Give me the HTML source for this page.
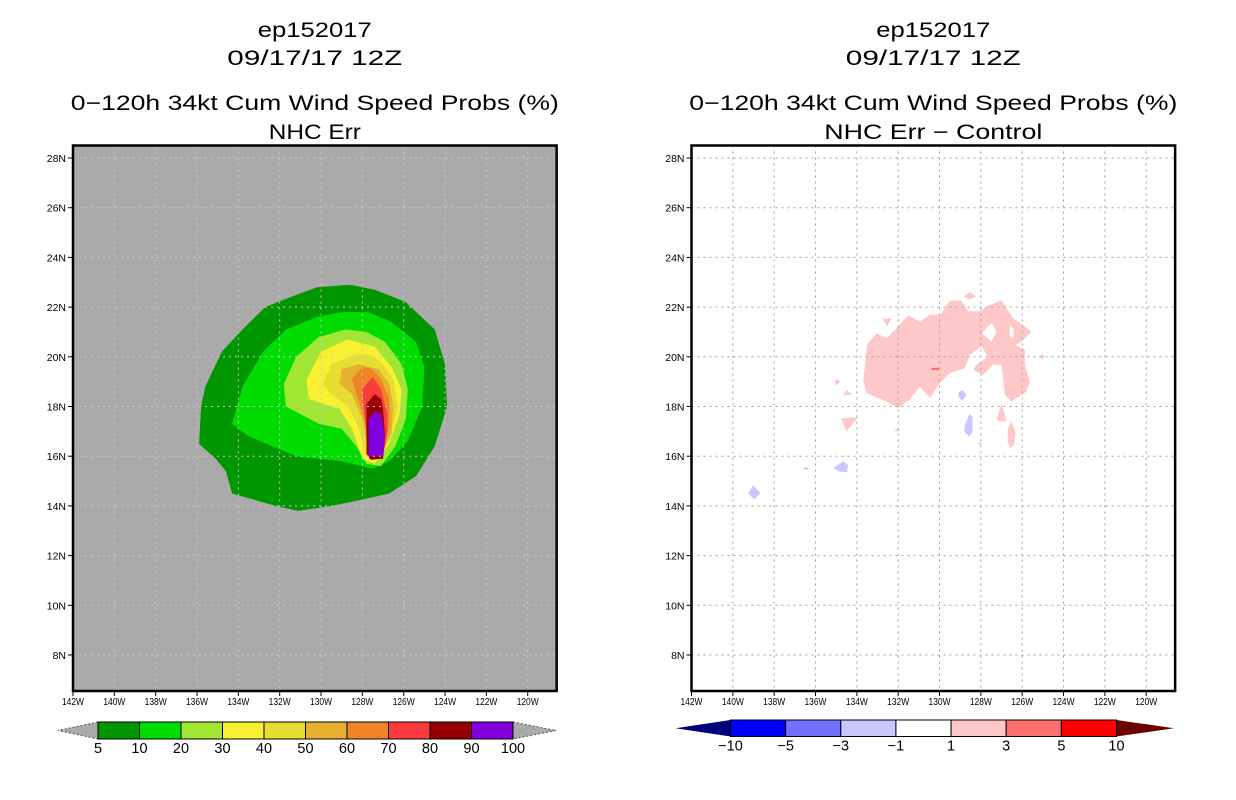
<!DOCTYPE html>
<html><head><meta charset="utf-8">
<style>
html,body{margin:0;padding:0;background:#fff;width:1236px;height:800px;overflow:hidden}
svg{display:block}
text{font-family:"Liberation Sans",sans-serif;fill:#000}
</style></head>
<body>
<svg id="root" width="1236" height="800" viewBox="0 0 1236 800"></svg>
<script>
// ---- axis data ----
const lonTicks = [142,140,138,136,134,132,130,128,126,124,122,120];
const latTicks = [28,26,24,22,20,18,16,14,12,10,8];
const lonMin = 142.0, lonMax = 118.6, latMin = 6.6, latMax = 28.5;

// ---- left panel: probability contour levels (filled polygons, [lonW, latN]) ----
const probLevels = [5,10,20,30,40,50,60,70,80,90,100];
const probColors = ["#009600","#00dc00","#a0e632","#faf032","#e6dc32","#e6af2d","#f08228","#fa3c3c","#960000","#8200dc"];
const c5  = [[128.6,22.9],[130.2,22.8],[131.5,22.4],[132.7,22.0],[133.8,21.1],[134.8,20.2],[135.6,18.8],[135.8,18.0],[135.9,16.5],[135.1,15.9],[134.6,15.4],[134.3,14.5],[132.2,14.0],[131.1,13.8],[129.5,14.0],[128.3,14.2],[126.7,14.5],[125.4,15.2],[124.5,16.4],[123.9,18.0],[124.0,19.7],[124.5,21.1],[125.9,22.2],[127.4,22.7]];
const c10 = [[129.0,21.8],[130.2,21.6],[131.7,21.1],[132.8,20.2],[133.8,18.8],[134.3,17.3],[133.5,16.8],[131.2,16.0],[129.0,15.8],[127.5,15.5],[126.7,15.8],[125.8,16.6],[125.1,18.0],[125.0,19.6],[125.4,20.6],[126.6,21.4],[127.7,21.8]];
const c20 = [[128.8,21.1],[130.1,20.8],[131.2,20.0],[131.8,18.9],[131.7,18.0],[130.1,17.3],[129.0,17.1],[128.3,16.4],[127.8,15.7],[127.1,15.6],[126.4,16.4],[125.9,17.5],[125.8,18.7],[126.1,19.7],[126.9,20.6],[127.8,21.0]];
const c30 = [[128.7,20.7],[130.0,20.2],[130.7,19.1],[130.6,18.3],[129.1,17.9],[128.5,17.1],[128.0,15.9],[127.4,15.7],[126.7,16.5],[126.2,17.7],[126.1,18.7],[126.6,19.6],[127.4,20.4]];
const c40 = [[128.3,20.1],[129.5,19.7],[129.9,18.9],[129.5,18.5],[128.7,18.0],[128.2,17.2],[127.8,16.0],[127.2,15.9],[126.6,16.8],[126.3,18.0],[126.5,19.1],[127.1,19.8],[127.7,20.1]];
const c50 = [[128.2,19.7],[129.0,19.5],[129.1,18.9],[128.5,18.5],[128.0,17.5],[127.7,16.0],[127.1,16.0],[126.6,16.9],[126.5,18.0],[126.7,18.9],[127.2,19.5]];
const c60 = [[128.0,19.6],[128.5,19.1],[128.2,18.3],[127.8,17.2],[127.6,16.0],[127.1,16.0],[126.7,17.2],[126.7,18.3],[127.1,19.1],[127.5,19.5]];
const c70 = [[127.5,19.2],[128.0,18.7],[127.9,17.7],[127.8,16.9],[127.6,16.0],[127.0,16.0],[126.8,16.9],[126.8,17.7],[127.1,18.7]];
const c80 = [[127.4,18.5],[127.8,18.1],[127.8,17.5],[127.8,16.1],[127.6,15.85],[127.0,15.9],[126.9,16.8],[127.0,17.9],[127.1,18.3]];
const c90 = [[127.4,17.8],[127.7,17.5],[127.7,16.0],[127.0,16.0],[126.9,16.8],[127.1,17.7]];
const probContours = [c5,c10,c20,c30,c40,c50,c60,c70,c80,c90];

// ---- right panel: difference contours ----
const diffLabels = ["-10","-5","-3","-1","1","3","5","10"];
const diffColors = ["#0000ff","#7070ff","#c8c8ff","#ffffff","#ffc8c8","#ff7070","#ff0000"];
const diffEndLow = "#000078", diffEndHigh = "#6e0000";
const pinkMain = [[133.5,20.5],[133.05,20.95],[132.56,20.75],[132.08,21.15],[131.52,21.66],[130.95,21.42],[130.47,21.69],[129.95,21.69],[129.5,22.26],[128.94,22.26],[128.61,21.83],[128.05,21.83],[127.56,22.09],[127.0,22.27],[126.44,21.56],[125.55,21.02],[126.11,20.55],[126.35,20.48],[125.87,20.28],[125.87,19.68],[125.63,19.01],[125.79,18.6],[126.52,18.2],[126.84,18.47],[127.0,19.68],[127.4,19.68],[127.89,19.28],[128.37,19.48],[128.21,19.68],[127.65,20.01],[127.97,20.42],[128.53,20.08],[128.77,19.54],[129.5,19.34],[129.98,18.94],[130.47,18.34],[130.95,18.81],[131.44,18.27],[132.0,17.93],[132.56,18.2],[133.53,18.54],[133.69,19.01]];
const pinkHoles = [
  [[127.97,20.95],[127.48,21.36],[127.24,21.02],[127.48,20.62]],
  [[126.6,21.22],[126.4,21.15],[126.44,20.75],[126.6,20.82]]
];
const pinkSmall = [
  [[128.85,22.43],[128.52,22.6],[128.23,22.43],[128.52,22.3]],
  [[132.76,21.53],[132.32,21.56],[132.53,21.22]],
  [[125.03,20.15],[124.94,20.01],[125.03,19.88],[125.13,20.01]],
  [[135.1,19.0],[134.95,19.11],[134.82,18.98],[134.98,18.85]],
  [[134.66,18.47],[134.47,18.67],[134.23,18.47]],
  [[134.77,17.53],[133.94,17.56],[134.5,17.0]],
  [[127.24,17.46],[127.0,18.13],[126.76,17.42],[127.0,17.39]],
  [[126.68,17.13],[126.52,17.42],[126.32,16.93],[126.39,16.46],[126.55,16.32],[126.71,16.59]]
];
const redSmall = [[[130.39,19.55],[130.05,19.57],[129.95,19.51],[130.05,19.46],[130.39,19.47]]];
const blueSmall = [
  [[129.1,18.54],[128.9,18.67],[128.69,18.47],[128.9,18.24],[129.05,18.34]],
  [[128.77,17.26],[128.56,17.69],[128.4,17.6],[128.4,16.99],[128.56,16.79],[128.81,16.99]],
  [[132.21,17.02],[132.03,17.1],[131.92,17.0]],
  [[128.13,16.52],[128.02,16.56],[127.97,16.48],[128.05,16.43]],
  [[135.15,15.52],[134.66,15.79],[134.42,15.65],[134.47,15.36],[134.82,15.38]],
  [[136.6,15.52],[136.44,15.57],[136.31,15.49],[136.47,15.44]],
  [[139.26,14.51],[139.02,14.82],[138.66,14.51],[138.98,14.27]]
];

const NS = "http://www.w3.org/2000/svg";
const root = document.getElementById('root');
function mk(tag, attrs, parent){
  const e = document.createElementNS(NS, tag);
  for (const k in attrs) e.setAttribute(k, attrs[k]);
  (parent||root).appendChild(e);
  return e;
}
const PY0 = 145.5, PY1 = 691;
function xScale(x0){ return lon => x0 + (lonMin - lon) * ((527.7-73)/22); }
function yScale(lat){ return 158 + (28 - lat) * 24.85; }
function polyPts(poly, xs){ return poly.map(p => xs(p[0]).toFixed(1)+","+yScale(p[1]).toFixed(1)).join(" "); }
function pathD(poly, xs){ return "M"+poly.map(p => xs(p[0]).toFixed(1)+" "+yScale(p[1]).toFixed(1)).join("L")+"Z"; }

function titles(cx, lines, g){
  const ys=[37,65,110,139], ws=[114,175,488,null];
  lines.forEach((t,i)=>{
    const el = mk('text',{x:cx,y:ys[i],'text-anchor':'middle','font-size':21,textLength:(ws[i]||t.w),lengthAdjust:'spacingAndGlyphs'},g);
    el.textContent = t.s||t;
    
    
  });
}

function panel(x0, bg, name, titleLines){
  const g = mk('g',{});
  
  
  const xs = xScale(x0);
  const xR = xs(lonMax);
  titles((x0+xR)/2, titleLines, g);
  const bgR = mk('rect',{x:x0,y:PY0,width:xR-x0,height:PY1-PY0,fill:bg},g);
  
  
  const data = mk('g',{},g);
  
  
  const grid = mk('g',{stroke:bg==="#ffffff"?"#a0a0a0":"#c8c8c8",'stroke-width':1,'stroke-dasharray':'2,4'},g);
  
  
  // ticks & labels
  const ax = mk('g',{},g);
  
  
  lonTicks.forEach(l=>{
    const x = xs(l);
    if (l<142 && l>118.6) mk('line',{x1:x,y1:PY0,x2:x,y2:PY1},grid);
    mk('line',{x1:x,y1:PY1,x2:x,y2:PY1+5,stroke:'#000','stroke-width':1},ax);
    const t = mk('text',{x:x,y:PY1+14,'text-anchor':'middle','font-size':10.5,textLength:22,lengthAdjust:'spacingAndGlyphs'},ax);
    t.textContent = l+"W";
    
    
  });
  latTicks.forEach(l=>{
    const y = yScale(l);
    mk('line',{x1:x0,y1:y,x2:xR,y2:y},grid);
    mk('line',{x1:x0-5,y1:y,x2:x0,y2:y,stroke:'#000','stroke-width':1},ax);
    const t = mk('text',{x:x0-7,y:y+4,'text-anchor':'end','font-size':10.5},ax);
    t.textContent = l+"N";
    
    
  });
  const fr = mk('rect',{x:x0,y:PY0,width:xR-x0,height:PY1-PY0,fill:'none',stroke:'#000','stroke-width':2.5},g);
  
  
  return {data, xs};
}

// Left panel
const L = panel(73, "#aaaaaa", "prob-panel", ["ep152017","09/17/17 12Z","0\u2212120h 34kt Cum Wind Speed Probs (%)",{s:"NHC Err",w:92}]);
probContours.forEach((poly,i)=>{
  const p = mk('polygon',{points:polyPts(poly,L.xs),fill:probColors[i]},L.data);
  
  
});

// Right panel
const R = panel(691.5, "#ffffff", "diff-panel", ["ep152017","09/17/17 12Z","0\u2212120h 34kt Cum Wind Speed Probs (%)",{s:"NHC Err \u2212 Control",w:218}]);
const main = mk('path',{d:pathD(pinkMain,R.xs)+pinkHoles.map(h=>pathD(h,R.xs)).join(""),fill:diffColors[4],'fill-rule':'evenodd'},R.data);


pinkSmall.forEach(poly=>{
  const p = mk('polygon',{points:polyPts(poly,R.xs),fill:diffColors[4]},R.data);
  
  
});
redSmall.forEach(poly=>{
  const p = mk('polygon',{points:polyPts(poly,R.xs),fill:diffColors[5]},R.data);
  
  
});
blueSmall.forEach(poly=>{
  const p = mk('polygon',{points:polyPts(poly,R.xs),fill:diffColors[2]},R.data);
  
  
});

// Colorbars
function colorbar(name, tipL, x0, x1, tipR, y0, y1, colors, endL, endR, labels, dashedEnds){
  const g = mk('g',{});
  
  
  const ym = (y0+y1)/2, w = (x1-x0)/colors.length;
  const tl = mk('polygon',{points:`${tipL},${ym} ${x0},${y0} ${x0},${y1}`,fill:endL},g);
  
  
  const tr = mk('polygon',{points:`${tipR},${ym} ${x1},${y0} ${x1},${y1}`,fill:endR},g);
  
  
  if (dashedEnds){
    mk('polyline',{points:`${x0},${y0} ${tipL},${ym} ${x0},${y1}`,fill:'none',stroke:'#555','stroke-dasharray':'2,2'},g);
    mk('polyline',{points:`${x1},${y0} ${tipR},${ym} ${x1},${y1}`,fill:'none',stroke:'#555','stroke-dasharray':'2,2'},g);
  }
  colors.forEach((c,i)=>{
    const r = mk('rect',{x:x0+i*w,y:y0,width:w,height:y1-y0,fill:c,stroke:'#000','stroke-width':1},g);
    
    
  });
  labels.forEach((l,i)=>{
    const t = mk('text',{x:x0+i*w,y:y1+14,'text-anchor':'middle','font-size':14.5},g);
    t.textContent = l;
    
    
  });
}
colorbar('prob-colorbar',58,98,513,556,722,739,probColors,"#aaaaaa","#aaaaaa",probLevels.map(String),true);
colorbar('diff-colorbar',675.5,730.5,1116.5,1174,720,736.5,diffColors,diffEndLow,diffEndHigh,diffLabels.map(s=>s.replace('-','\u2212')),false);
</script>
</body></html>
